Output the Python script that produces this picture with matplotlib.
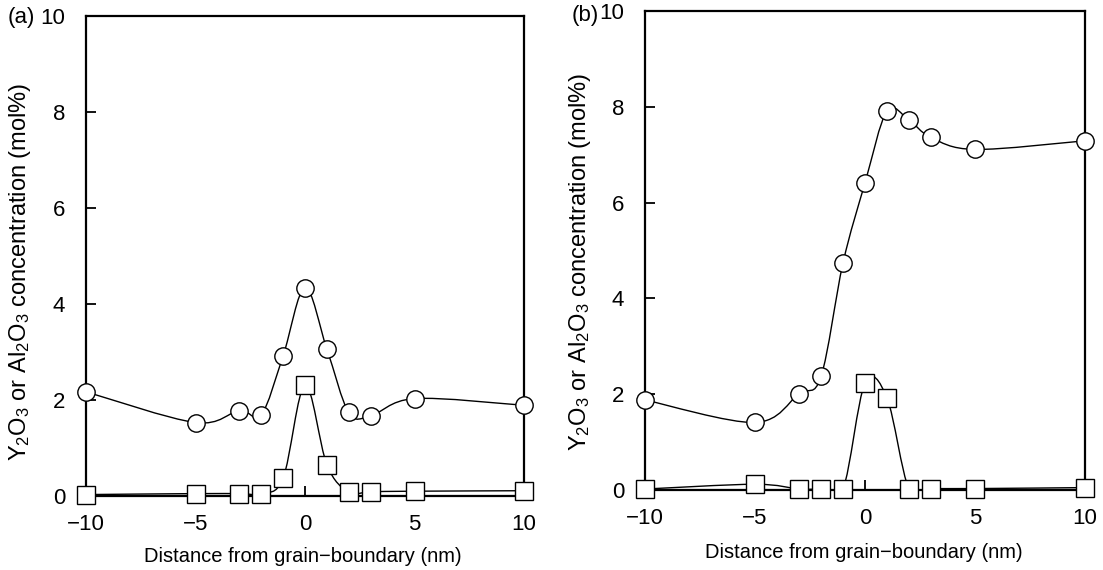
import matplotlib
matplotlib.use("Agg")
import matplotlib.pyplot as plt
import numpy as np
from matplotlib.path import Path
from matplotlib.patches import PathPatch

plt.rcParams['font.family'] = ['Liberation Sans', 'DejaVu Sans']
plt.rcParams['mathtext.default'] = 'regular'

distance = [-10, -5, -3, -2, -1, 0, 1, 2, 3, 5, 10]

y2o3_a = [2.17, 1.53, 1.78, 1.69, 2.92, 4.34, 3.06, 1.74, 1.67, 2.03, 1.89]
al2o3_a = [0.03, 0.05, 0.05, 0.05, 0.37, 2.31, 0.65, 0.08, 0.09, 0.10, 0.11]

y2o3_b = [1.88, 1.41, 2.01, 2.37, 4.74, 6.41, 7.91, 7.72, 7.36, 7.11, 7.29]
al2o3_b = [0.02, 0.12, 0.02, 0.02, 0.02, 2.23, 1.92, 0.02, 0.03, 0.03, 0.05]

xticks = [-10, -5, 0, 5, 10]
yticks = [0, 2, 4, 6, 8, 10]
xlabel = "Distance from grain\u2212boundary (nm)"
ylabel = r"Y$_{2}$O$_{3}$ or Al$_{2}$O$_{3}$ concentration (mol%)"


def smooth_path(x, y, t=0.5):
    x = np.asarray(x, float)
    y = np.asarray(y, float)
    pts = np.column_stack([x, y])
    n = len(pts)
    verts = [pts[0]]
    codes = [Path.MOVETO]
    for i in range(n - 1):
        p0 = pts[i - 1] if i > 0 else pts[i]
        p1 = pts[i]
        p2 = pts[i + 1]
        p3 = pts[i + 2] if i + 2 < n else pts[i + 1]
        c1 = p1 + (p2 - p0) * t / 3.0
        c2 = p2 - (p3 - p1) * t / 3.0
        verts += [c1, c2, p2]
        codes += [Path.CURVE4] * 3
    return Path(verts, codes)


W, H = 1103, 570
fig = plt.figure(figsize=(W / 100, H / 100), dpi=100)
ax_a = fig.add_axes([86 / W, 1 - 496 / H, (524 - 86) / W, (496 - 16) / H])
ax_b = fig.add_axes([645 / W, 1 - 490 / H, (1085 - 645) / W, (490 - 11) / H])

panels = [
    (ax_a, y2o3_a, al2o3_a, "(a)", 21, 18, 20, 272, 303, 556),
    (ax_b, y2o3_b, al2o3_b, "(b)", 585, 16, 580, 262, 864, 553),
]

for ax, yc, ys, lab, lx, ly, ylx, yly, xlx, xly in panels:
    for vals, mk, ms in [(ys, 's', 12.5), (yc, 'o', 12.5)]:
        ax.add_patch(PathPatch(smooth_path(distance, vals), facecolor='none',
                               edgecolor='black', lw=1.0, zorder=2))
        ax.plot(distance, vals, linestyle='none', marker=mk, ms=ms,
                mfc='white', mec='black', mew=1.0, zorder=3, clip_on=False)
    ax.axhline(0, color='black', lw=2.2, zorder=1.5)
    ax.set_xlim(-10, 10)
    ax.set_ylim(0, 10)
    ax.set_xticks(xticks)
    ax.set_yticks(yticks)
    ax.set_xticklabels([str(v).replace('-', '\u2212') for v in xticks])
    ax.tick_params(direction='in', length=7, width=1.3, labelsize=16)
    ax.tick_params(axis='x', pad=13)
    ax.tick_params(axis='y', pad=15)
    for s in ax.spines.values():
        s.set_linewidth(1.6)
    fig.text(xlx / W, 1 - xly / H, xlabel, fontsize=14.5, ha='center', va='center')
    fig.text(ylx / W, 1 - yly / H, ylabel, fontsize=17, rotation=90,
             ha='center', va='center')
    fig.text(lx / W, 1 - ly / H, lab, fontsize=16, ha='center', va='center')

fig.savefig("out.png", dpi=100)
